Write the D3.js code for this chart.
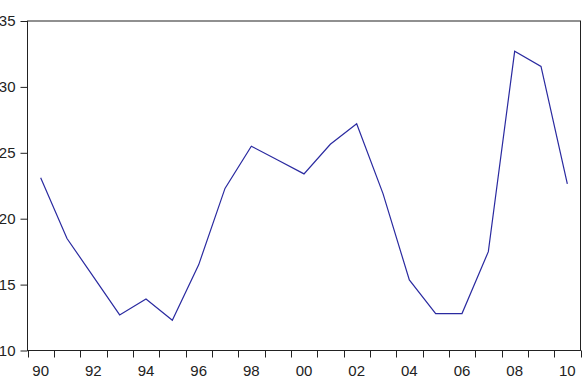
<!DOCTYPE html>
<html><head><meta charset="utf-8">
<script src="https://cdn.jsdelivr.net/npm/d3@7"></script>
<style>body{margin:0;background:#fff}svg{display:block}</style>
</head><body>
<script>
const years = d3.range(1990, 2011);
const values = [23.1, 18.5, 15.6, 12.7, 13.9, 12.3, 16.5, 22.3, 25.5, 24.45, 23.4, 25.65, 27.2, 21.9, 15.35, 12.8, 12.8, 17.5, 32.7, 31.55, 22.65];
const yTicks = [10, 15, 20, 25, 30, 35];
const xLabels = years.filter(v => v % 2 === 0);

const W = 585, H = 383;
const mLeft = 27.5, mRight = 580.5, mTop = 21, mBottom = 350.5;
const svg = d3.select("body").append("svg").attr("width", W).attr("height", H);

const x = d3.scaleBand().domain(years).range([mLeft, mRight]).padding(0);
const y = d3.scaleLinear().domain([10, 35]).range([mBottom, mTop]);

const FONT = "Liberation Sans, Arial, sans-serif";

// frame
svg.append("rect").attr("x", mLeft).attr("y", mTop).attr("width", mRight - mLeft).attr("height", mBottom - mTop)
  .attr("fill", "none").attr("stroke", "#222").attr("stroke-width", 1);

// y axis
const yAxis = d3.axisLeft(y).tickValues(yTicks).tickSize(7).tickPadding(5).tickFormat(d3.format("d"));
const gy = svg.append("g").attr("transform", `translate(${mLeft},0)`).call(yAxis);
gy.select(".domain").remove();
gy.selectAll("line").attr("stroke", "#222");
gy.selectAll("text").attr("font-family", FONT).attr("font-size", 15).attr("fill", "#222");

// x ticks at band edges
const edges = years.map(d => x(d)).concat([x(years[years.length - 1]) + x.bandwidth()]);
svg.append("g").selectAll("line").data(edges).join("line")
  .attr("x1", d => Math.round(d) + 0.5).attr("x2", d => Math.round(d) + 0.5)
  .attr("y1", mBottom).attr("y2", mBottom + 7).attr("stroke", "#222");
svg.append("g").selectAll("text").data(xLabels).join("text")
  .attr("x", d => x(d) + x.bandwidth() / 2).attr("y", 375.5)
  .attr("text-anchor", "middle")
  .attr("font-family", FONT).attr("font-size", 15).attr("fill", "#222")
  .text(d => String(d % 100).padStart(2, "0"));

// line
const line = d3.line().x((d, i) => x(years[i]) + x.bandwidth() / 2).y(d => y(d));
svg.append("path").datum(values).attr("d", line)
  .attr("fill", "none").attr("stroke", "#2a2aa0").attr("stroke-width", 1.2);
</script>
</body></html>
